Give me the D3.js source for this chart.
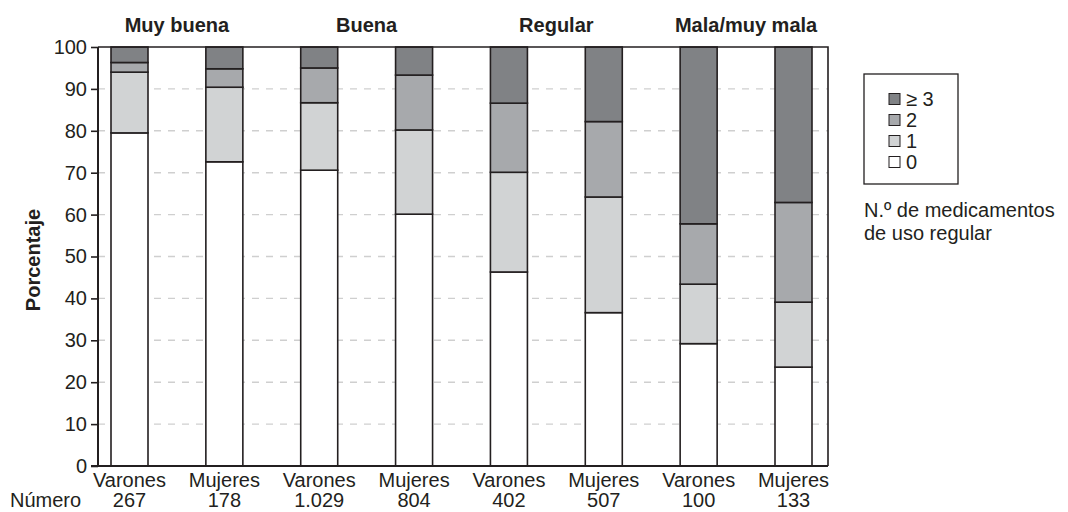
<!DOCTYPE html>
<html>
<head>
<meta charset="utf-8">
<script src="https://cdn.jsdelivr.net/npm/d3@7"></script>
<style>
  body { margin: 0; background: #fff; }
  svg { display: block; }
  text { font-family: "Liberation Sans", Arial, Helvetica, sans-serif; fill: #231f20; }
</style>
</head>
<body>
<svg id="chart" width="1068" height="512"></svg>
<script>
// ---- Data ----
const categories = ["Muy buena", "Buena", "Regular", "Mala/muy mala"];
const sexes = ["Varones", "Mujeres"];
const numbers = ["267", "178", "1.029", "804", "402", "507", "100", "133"];
const seriesKeys = ["0", "1", "2", "≥ 3"];
const serie0 = [79.5, 72.6, 70.6, 60.1, 46.3, 36.6, 29.2, 23.6];
const serie1 = [14.5, 17.8, 16.1, 20.1, 23.8, 27.6, 14.2, 15.5];
const serie2 = [2.3, 4.4, 8.3, 13.1, 16.5, 18.0, 14.4, 23.8];
const serie3 = [3.7, 5.2, 5.0, 6.7, 13.4, 17.8, 42.2, 37.1];
const yTicks = [0, 10, 20, 30, 40, 50, 60, 70, 80, 90, 100];
const colors = ["#ffffff", "#d1d3d4", "#a7a9ac", "#808285"];

(function () {
// ---- Build table ----
const rows = [];
categories.forEach((c, ci) => {
  sexes.forEach((s, si) => {
    const i = ci * 2 + si;
    rows.push({ id: i, cat: c, sex: s, si: si, n: numbers[i],
      "0": serie0[i], "1": serie1[i], "2": serie2[i], "≥ 3": serie3[i] });
  });
});
const stacked = d3.stack().keys(seriesKeys)(rows);

// ---- Layout ----
const svg = d3.select("#chart");
const pL = 98, pR = 828, pT = 47, pB = 466;
const barW = 37;
const ink = "#231f20";

const y = d3.scaleLinear().domain([0, 100]).range([pB, pT]);
const x = d3.scalePoint().domain(rows.map(d => d.id)).range([129.5, 793.5]);
const color = d3.scaleOrdinal().domain(seriesKeys).range(colors);

// Gridlines
svg.append("g").selectAll("line")
  .data(yTicks.filter(t => t > 0 && t < 100))
  .join("line")
  .attr("x1", pL).attr("x2", pR)
  .attr("y1", d => y(d)).attr("y2", d => y(d))
  .attr("stroke", "#cfcfcf").attr("stroke-width", 1.4)
  .attr("stroke-dasharray", "7,7");

// Bars
svg.append("g").selectAll("g")
  .data(stacked)
  .join("g")
  .attr("fill", d => color(d.key))
  .selectAll("rect")
  .data(d => d)
  .join("rect")
  .attr("x", d => x(d.data.id) - barW / 2)
  .attr("width", barW)
  .attr("y", d => y(d[1]))
  .attr("height", d => y(d[0]) - y(d[1]))
  .attr("stroke", ink).attr("stroke-width", 1.6);

// Frame (top and right)
svg.append("path")
  .attr("d", `M${pL},${pT}H${pR}V${pB}`)
  .attr("fill", "none").attr("stroke", ink).attr("stroke-width", 1.6);

// Y axis
const yAxis = d3.axisLeft(y).tickValues(yTicks).tickSize(7).tickPadding(4).tickFormat(d3.format("d"));
const gy = svg.append("g").attr("transform", `translate(${pL},0)`).call(yAxis);
gy.select(".domain").remove();
gy.selectAll(".tick line").attr("stroke", ink).attr("stroke-width", 1.6);
gy.selectAll(".tick text").style("font-size", "20px").attr("fill", ink)
  .style("font-family", '"Liberation Sans", Arial, sans-serif');
svg.append("line").attr("x1", pL).attr("x2", pL).attr("y1", pT).attr("y2", pB + 0.5)
  .attr("stroke", ink).attr("stroke-width", 2);
svg.append("line").attr("x1", pL - 7).attr("x2", pR).attr("y1", pB).attr("y2", pB)
  .attr("stroke", ink).attr("stroke-width", 2);

// X labels
const xl = svg.append("g");
xl.selectAll("text.sex").data(rows).join("text")
  .attr("class", "sex")
  .attr("x", d => x(d.id)).attr("y", 487)
  .attr("text-anchor", "middle").style("font-size", "20px")
  .text(d => d.sex);
xl.selectAll("text.num").data(rows).join("text")
  .attr("class", "num")
  .attr("x", d => x(d.id)).attr("y", 507)
  .attr("text-anchor", "middle").style("font-size", "20px")
  .text(d => d.n);
svg.append("text").attr("x", 10).attr("y", 507).style("font-size", "20px").text("Número");

// Group titles
svg.append("g").selectAll("text").data(categories).join("text")
  .attr("x", (d, i) => (x(i * 2) + x(i * 2 + 1)) / 2)
  .attr("y", 32)
  .attr("text-anchor", "middle")
  .style("font-size", "20px").style("font-weight", "bold")
  .text(d => d);

// Y title
svg.append("text")
  .attr("transform", "translate(40,260) rotate(-90)")
  .attr("text-anchor", "middle")
  .style("font-size", "20px").style("font-weight", "bold")
  .text("Porcentaje");

// Legend
const lg = svg.append("g");
lg.append("rect").attr("x", 864).attr("y", 74).attr("width", 94).attr("height", 110)
  .attr("fill", "none").attr("stroke", ink).attr("stroke-width", 1.3);
const legendKeys = seriesKeys.slice().reverse();
const li = lg.selectAll("g.item").data(legendKeys).join("g")
  .attr("class", "item")
  .attr("transform", (d, i) => `translate(889,${99 + i * 21})`);
li.append("rect").attr("x", 0).attr("y", -5.5).attr("width", 11).attr("height", 11)
  .attr("fill", d => color(d)).attr("stroke", ink).attr("stroke-width", 1);
li.append("text").attr("x", 17).attr("y", 7).style("font-size", "20px").text(d => d);

lg.append("text").attr("x", 864).attr("y", 217).style("font-size", "20px").text("N.º de medicamentos");
lg.append("text").attr("x", 864).attr("y", 240).style("font-size", "20px").text("de uso regular");
})();
</script>
</body>
</html>
